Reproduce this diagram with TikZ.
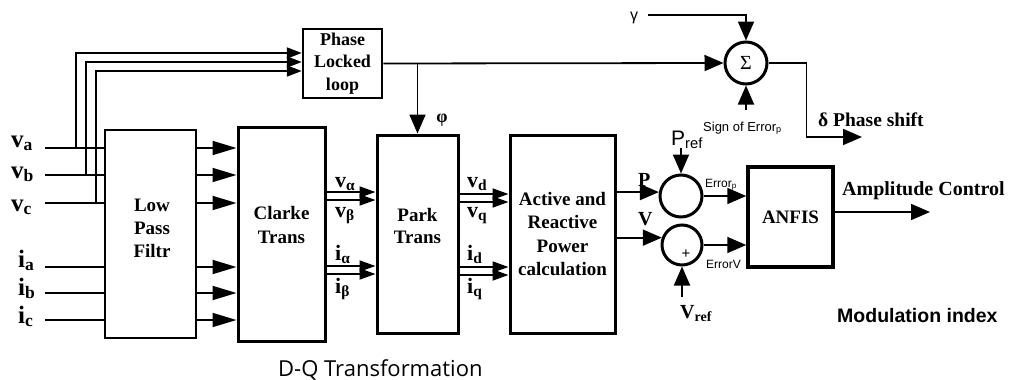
\documentclass[tikz,border=0pt]{standalone}
\usepackage{fontspec}
\setmainfont{Liberation Serif}
\setsansfont{Liberation Sans}
\newfontfamily\captionfont{Open Sans}
\usetikzlibrary{positioning,arrows.meta}

\begin{document}
\begin{tikzpicture}[x=1pt,y=-1pt,
          blk/.style={draw,line width=3pt,inner sep=0pt},
          blktxt/.style={align=center,inner sep=0pt,
                    font=\fontsize{19}{23}\selectfont\bfseries},
          sumc/.style={draw,circle,line width=3pt,inner sep=0pt},
          wire/.style={line width=1.8pt},
          arr/.style={wire,-{Triangle[length=19pt,width=16pt]}},
          bigarr/.style={wire,-{Triangle[length=24pt,width=14pt]}},
          smallarr/.style={wire,-{Triangle[length=15pt,width=11pt]}},
          duoarr/.style={wire,-{Triangle[length=16pt,width=11pt]}},
          sig/.style={inner sep=0pt,anchor=base west,
                    font=\fontsize{25}{25}\selectfont\bfseries},
          msig/.style={sig,font=\fontsize{22}{22}\selectfont\bfseries},
          small/.style={inner sep=0pt,anchor=base west,
                    font=\fontsize{12}{12}\selectfont\sffamily}]
  \useasboundingbox (0,0) rectangle (1012,380);

  % blocks
  \node[blk,line width=2.5pt,minimum width=79pt,minimum height=69pt,
        align=center,font=\fontsize{18}{22.5}\selectfont\bfseries]
        (pll) at (342.5,63.5) {Phase\\Locked\\loop};
  \node[blk,line width=1.5pt,minimum width=91pt,minimum height=208pt]
        (lpf) at (150.5,234) {};
  \node[blk,minimum width=87pt,minimum height=214pt] (clarke) at (281.5,234) {};
  \node[blk,minimum width=81pt,minimum height=198pt] (park) at (417.5,234) {};
  \node[blk,minimum width=105pt,minimum height=198pt,align=center,
        font=\fontsize{19}{23.3}\selectfont\bfseries]
        (pq) at (562.5,234) {Active and\\Reactive\\Power\\calculation};
  \node[blk,line width=3.5pt,minimum width=85pt,minimum height=100pt,
        font=\fontsize{19}{23}\selectfont\bfseries]
        (anfis) at (790.5,217) {ANFIS};
  \node[blktxt] (lpf-t) at (152,228) {Low\\Pass\\Filtr};
  \node[blktxt,font=\fontsize{19}{24}\selectfont\bfseries]
        (clarke-t) at (281.5,225) {Clarke\\Trans};
  \node[blktxt,font=\fontsize{19}{22}\selectfont\bfseries]
        (park-t) at (417.5,226) {Park\\Trans};

  \node[sumc,minimum size=42pt,font=\fontsize{20}{20}\selectfont]
        (sum) at (746,63) {Σ};
  \node[sumc,minimum size=42pt] (errp) at (681,196) {};
  \node[sumc,minimum size=40pt] (errv) at (682,245) {};
  \node[inner sep=0pt,font=\fontsize{15}{15}\selectfont\sffamily]
        (plus) at (686,254) {+};

  % three-phase inputs
  \foreach \n/\y/\tx/\ty/\by in {a/148/76/53/147, b/175/86/62/178, c/203/96/71/211} {
    \coordinate (in-v\n) at (45,\y);
    \node[sig] (lab-v\n) at (11,\by) {v\textsubscript{\n}};
    \draw[wire] (in-v\n) -- (lpf.west |- in-v\n);
    \draw[smallarr] (\tx,\y) |- (pll.west |- 0,\ty);
  }
  \foreach \n/\y/\by in {a/267/267, b/293/295, c/320/323} {
    \coordinate (in-i\n) at (45,\y);
    \node[sig] (lab-i\n) at (18,\by) {i\textsubscript{\n}};
    \draw[wire] (in-i\n) -- (lpf.west |- in-i\n);
  }
  \foreach \y in {148,175,203,267,293,320}
    \draw[bigarr] (lpf.east |- 0,\y) -- (clarke.west |- 0,\y);

  % alpha-beta and d-q signals
  \foreach \y in {192,200,266,274}
    \draw[duoarr] (clarke.east |- 0,\y) -- (park.west |- 0,\y);
  \foreach \y in {194,202,267,275}
    \draw[duoarr] (park.east |- 0,\y) -- (pq.west |- 0,\y);
  \node[msig] (lab-valpha) at (335,187) {v\textsubscript{α}};
  \node[msig] (lab-vbeta)  at (335,217) {v\textsubscript{β}};
  \node[msig] (lab-ialpha) at (335,260) {i\textsubscript{α}};
  \node[msig] (lab-ibeta)  at (335,293) {i\textsubscript{β}};
  \node[msig] (lab-vd) at (467,187) {v\textsubscript{d}};
  \node[msig] (lab-vq) at (467,217) {v\textsubscript{q}};
  \node[msig] (lab-id) at (467,260) {i\textsubscript{d}};
  \node[msig] (lab-iq) at (467,293) {i\textsubscript{q}};

  % phase path
  \draw[arr] (pll.east) -- (sum.west);
  \draw[arr] (park.north |- pll.east) -- (park.north);
  \node[inner sep=0pt,font=\fontsize{18}{18}\selectfont\bfseries]
        (phi) at (442,120) {φ};
  \node[inner sep=0pt,font=\fontsize{16}{16}\selectfont\sffamily]
        (gam) at (634,18) {γ};
  \draw[arr] ([xshift=10pt]gam.east |- 0,15) -| (sum.north);
  \coordinate (sgn-in) at (746,110);
  \draw[arr] (sgn-in) -- (sum.south);
  \node[small,font=\fontsize{13}{13}\selectfont\sffamily]
        (sgn) at (703,131) {Sign of Error\textsubscript{p}};
  \coordinate (dout) at (862,137);
  \draw[arr] (sum.east) -- ++(38,0) |- (dout);
  \node[sig,font=\fontsize{19.5}{19.5}\selectfont\bfseries]
        (dlab) at (818,126) {δ Phase shift};

  % power / voltage control
  \draw[arr] (pq.east |- errp.170) -- (errp.170);
  \draw[arr] (pq.east |- errv.160) -- (errv.160);
  \node[sig,font=\fontsize{20}{20}\selectfont\bfseries] (lab-p) at (638,186) {P};
  \node[sig,font=\fontsize{20}{20}\selectfont\bfseries] (lab-v) at (638,225) {V};
  \coordinate (pref-in) at (681,148);
  \draw[arr] (pref-in) -- (errp.north);
  \node[sig,font=\fontsize{21}{21}\selectfont\sffamily]
        (pref) at (671,145) {P\textsubscript{ref}};
  \coordinate (vref-in) at (682,297);
  \draw[arr] (vref-in) -- (errv.south);
  \node[sig,font=\fontsize{20}{20}\selectfont\bfseries]
        (vref) at (680,318) {V\textsubscript{ref}};
  \draw[arr] (errp.east) -- (anfis.west |- errp.east);
  \draw[arr] (errv.east) -- (anfis.west |- errv.east);
  \node[small] (lab-errp) at (705,187) {Error\textsubscript{p}};
  \node[small] (lab-errv) at (706,268) {ErrorV};
  \coordinate (aout) at (930,212);
  \draw[arr] (anfis.east |- aout) -- (aout);
  \node[sig,font=\fontsize{20}{20}\selectfont\bfseries]
        (alab) at (842,195) {Amplitude Control};
  \node[sig,font=\fontsize{19.5}{19.5}\selectfont\sffamily\bfseries]
        (mlab) at (837,322) {Modulation index};

  \node[sig,font=\fontsize{22}{22}\selectfont\captionfont]
        (cap) at (278,376) {D-Q Transformation};
\end{tikzpicture}
\end{document}
